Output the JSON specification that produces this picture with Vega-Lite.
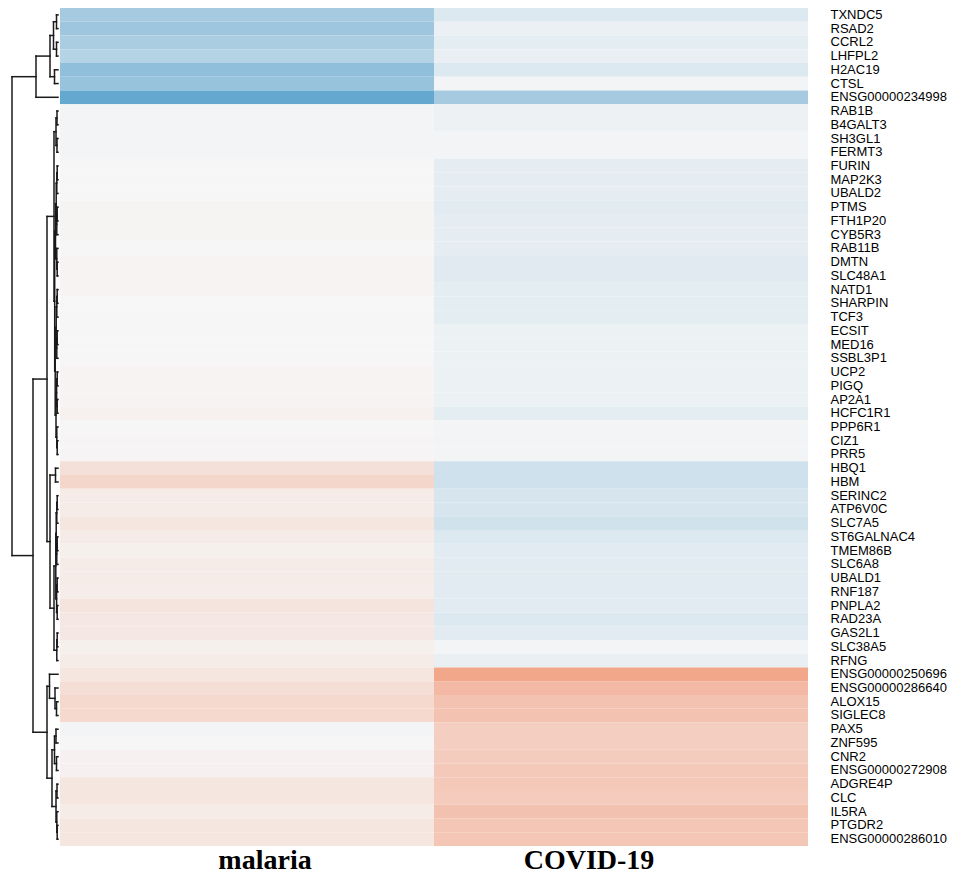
{
  "$schema": "https://vega.github.io/schema/vega-lite/v6.json",
  "padding": {"left": 5, "top": 8, "right": 0, "bottom": 0},
  "background": "white",
  "spacing": 0,
  "config": {"view": {"stroke": null}},
  "datasets": {
    "cells": [
      {"g": "TXNDC5", "c": "malaria", "v": -0.55}, {"g": "TXNDC5", "c": "COVID-19", "v": -0.17},
      {"g": "RSAD2", "c": "malaria", "v": -0.6}, {"g": "RSAD2", "c": "COVID-19", "v": -0.08},
      {"g": "CCRL2", "c": "malaria", "v": -0.52}, {"g": "CCRL2", "c": "COVID-19", "v": -0.12},
      {"g": "LHFPL2", "c": "malaria", "v": -0.45}, {"g": "LHFPL2", "c": "COVID-19", "v": -0.09},
      {"g": "H2AC19", "c": "malaria", "v": -0.7}, {"g": "H2AC19", "c": "COVID-19", "v": -0.17},
      {"g": "CTSL", "c": "malaria", "v": -0.65}, {"g": "CTSL", "c": "COVID-19", "v": -0.03},
      {"g": "ENSG00000234998", "c": "malaria", "v": -1}, {"g": "ENSG00000234998", "c": "COVID-19", "v": -0.55},
      {"g": "RAB1B", "c": "malaria", "v": -0.03}, {"g": "RAB1B", "c": "COVID-19", "v": -0.06},
      {"g": "B4GALT3", "c": "malaria", "v": -0.03}, {"g": "B4GALT3", "c": "COVID-19", "v": -0.06},
      {"g": "SH3GL1", "c": "malaria", "v": -0.03}, {"g": "SH3GL1", "c": "COVID-19", "v": -0.02},
      {"g": "FERMT3", "c": "malaria", "v": -0.03}, {"g": "FERMT3", "c": "COVID-19", "v": -0.02},
      {"g": "FURIN", "c": "malaria", "v": 0}, {"g": "FURIN", "c": "COVID-19", "v": -0.11},
      {"g": "MAP2K3", "c": "malaria", "v": 0}, {"g": "MAP2K3", "c": "COVID-19", "v": -0.11},
      {"g": "UBALD2", "c": "malaria", "v": 0}, {"g": "UBALD2", "c": "COVID-19", "v": -0.11},
      {"g": "PTMS", "c": "malaria", "v": 0.03}, {"g": "PTMS", "c": "COVID-19", "v": -0.14},
      {"g": "FTH1P20", "c": "malaria", "v": 0.03}, {"g": "FTH1P20", "c": "COVID-19", "v": -0.11},
      {"g": "CYB5R3", "c": "malaria", "v": 0.03}, {"g": "CYB5R3", "c": "COVID-19", "v": -0.11},
      {"g": "RAB11B", "c": "malaria", "v": 0}, {"g": "RAB11B", "c": "COVID-19", "v": -0.11},
      {"g": "DMTN", "c": "malaria", "v": 0.04}, {"g": "DMTN", "c": "COVID-19", "v": -0.15},
      {"g": "SLC48A1", "c": "malaria", "v": 0.04}, {"g": "SLC48A1", "c": "COVID-19", "v": -0.15},
      {"g": "NATD1", "c": "malaria", "v": 0.04}, {"g": "NATD1", "c": "COVID-19", "v": -0.12},
      {"g": "SHARPIN", "c": "malaria", "v": 0}, {"g": "SHARPIN", "c": "COVID-19", "v": -0.12},
      {"g": "TCF3", "c": "malaria", "v": 0}, {"g": "TCF3", "c": "COVID-19", "v": -0.12},
      {"g": "ECSIT", "c": "malaria", "v": 0}, {"g": "ECSIT", "c": "COVID-19", "v": -0.07},
      {"g": "MED16", "c": "malaria", "v": 0}, {"g": "MED16", "c": "COVID-19", "v": -0.07},
      {"g": "SSBL3P1", "c": "malaria", "v": 0}, {"g": "SSBL3P1", "c": "COVID-19", "v": -0.07},
      {"g": "UCP2", "c": "malaria", "v": 0.04}, {"g": "UCP2", "c": "COVID-19", "v": -0.07},
      {"g": "PIGQ", "c": "malaria", "v": 0.04}, {"g": "PIGQ", "c": "COVID-19", "v": -0.07},
      {"g": "AP2A1", "c": "malaria", "v": 0.04}, {"g": "AP2A1", "c": "COVID-19", "v": -0.07},
      {"g": "HCFC1R1", "c": "malaria", "v": 0.07}, {"g": "HCFC1R1", "c": "COVID-19", "v": -0.12},
      {"g": "PPP6R1", "c": "malaria", "v": 0}, {"g": "PPP6R1", "c": "COVID-19", "v": -0.02},
      {"g": "CIZ1", "c": "malaria", "v": 0.02}, {"g": "CIZ1", "c": "COVID-19", "v": -0.02},
      {"g": "PRR5", "c": "malaria", "v": 0.02}, {"g": "PRR5", "c": "COVID-19", "v": -0.02},
      {"g": "HBQ1", "c": "malaria", "v": 0.27}, {"g": "HBQ1", "c": "COVID-19", "v": -0.27},
      {"g": "HBM", "c": "malaria", "v": 0.4}, {"g": "HBM", "c": "COVID-19", "v": -0.27},
      {"g": "SERINC2", "c": "malaria", "v": 0.14}, {"g": "SERINC2", "c": "COVID-19", "v": -0.22},
      {"g": "ATP6V0C", "c": "malaria", "v": 0.13}, {"g": "ATP6V0C", "c": "COVID-19", "v": -0.22},
      {"g": "SLC7A5", "c": "malaria", "v": 0.2}, {"g": "SLC7A5", "c": "COVID-19", "v": -0.26},
      {"g": "ST6GALNAC4", "c": "malaria", "v": 0.13}, {"g": "ST6GALNAC4", "c": "COVID-19", "v": -0.17},
      {"g": "TMEM86B", "c": "malaria", "v": 0.08}, {"g": "TMEM86B", "c": "COVID-19", "v": -0.14},
      {"g": "SLC6A8", "c": "malaria", "v": 0.13}, {"g": "SLC6A8", "c": "COVID-19", "v": -0.14},
      {"g": "UBALD1", "c": "malaria", "v": 0.13}, {"g": "UBALD1", "c": "COVID-19", "v": -0.14},
      {"g": "RNF187", "c": "malaria", "v": 0.12}, {"g": "RNF187", "c": "COVID-19", "v": -0.14},
      {"g": "PNPLA2", "c": "malaria", "v": 0.23}, {"g": "PNPLA2", "c": "COVID-19", "v": -0.14},
      {"g": "RAD23A", "c": "malaria", "v": 0.17}, {"g": "RAD23A", "c": "COVID-19", "v": -0.17},
      {"g": "GAS2L1", "c": "malaria", "v": 0.17}, {"g": "GAS2L1", "c": "COVID-19", "v": -0.14},
      {"g": "SLC38A5", "c": "malaria", "v": 0.08}, {"g": "SLC38A5", "c": "COVID-19", "v": -0.03},
      {"g": "RFNG", "c": "malaria", "v": 0.14}, {"g": "RFNG", "c": "COVID-19", "v": -0.09},
      {"g": "ENSG00000250696", "c": "malaria", "v": 0.2}, {"g": "ENSG00000250696", "c": "COVID-19", "v": 1},
      {"g": "ENSG00000286640", "c": "malaria", "v": 0.3}, {"g": "ENSG00000286640", "c": "COVID-19", "v": 0.76},
      {"g": "ALOX15", "c": "malaria", "v": 0.37}, {"g": "ALOX15", "c": "COVID-19", "v": 0.65},
      {"g": "SIGLEC8", "c": "malaria", "v": 0.37}, {"g": "SIGLEC8", "c": "COVID-19", "v": 0.65},
      {"g": "PAX5", "c": "malaria", "v": -0.03}, {"g": "PAX5", "c": "COVID-19", "v": 0.5},
      {"g": "ZNF595", "c": "malaria", "v": 0}, {"g": "ZNF595", "c": "COVID-19", "v": 0.5},
      {"g": "CNR2", "c": "malaria", "v": 0.06}, {"g": "CNR2", "c": "COVID-19", "v": 0.52},
      {"g": "ENSG00000272908", "c": "malaria", "v": 0.06}, {"g": "ENSG00000272908", "c": "COVID-19", "v": 0.56},
      {"g": "ADGRE4P", "c": "malaria", "v": 0.2}, {"g": "ADGRE4P", "c": "COVID-19", "v": 0.56},
      {"g": "CLC", "c": "malaria", "v": 0.2}, {"g": "CLC", "c": "COVID-19", "v": 0.54},
      {"g": "IL5RA", "c": "malaria", "v": 0.13}, {"g": "IL5RA", "c": "COVID-19", "v": 0.66},
      {"g": "PTGDR2", "c": "malaria", "v": 0.2}, {"g": "PTGDR2", "c": "COVID-19", "v": 0.6},
      {"g": "ENSG00000286010", "c": "malaria", "v": 0.2}, {"g": "ENSG00000286010", "c": "COVID-19", "v": 0.6}
    ],
    "tree": [
      {"h": 1.5, "h1": 0, "u1": 0.5, "h2": 0, "u2": 1.5},
      {"h": 1.5, "h1": 0, "u1": 2.5, "h2": 0, "u2": 3.5},
      {"h": 4.5, "h1": 1.5, "u1": 1.0, "h2": 1.5, "u2": 3.0},
      {"h": 3.5, "h1": 0, "u1": 4.5, "h2": 0, "u2": 5.5},
      {"h": 8, "h1": 4.5, "u1": 2.0, "h2": 3.5, "u2": 5.0},
      {"h": 22, "h1": 8, "u1": 3.5, "h2": 0, "u2": 6.5},
      {"h": 1, "h1": 0, "u1": 7.5, "h2": 0, "u2": 8.5},
      {"h": 1, "h1": 0, "u1": 9.5, "h2": 0, "u2": 10.5},
      {"h": 2, "h1": 1, "u1": 8.0, "h2": 1, "u2": 10.0},
      {"h": 0.8, "h1": 0, "u1": 11.5, "h2": 0, "u2": 12.5},
      {"h": 1.2, "h1": 0.8, "u1": 12.0, "h2": 0, "u2": 13.5},
      {"h": 0.8, "h1": 0, "u1": 14.5, "h2": 0, "u2": 15.5},
      {"h": 1.2, "h1": 0.8, "u1": 15.0, "h2": 0, "u2": 16.5},
      {"h": 1.8, "h1": 1.2, "u1": 12.75, "h2": 1.2, "u2": 15.75},
      {"h": 0.8, "h1": 0, "u1": 18.5, "h2": 0, "u2": 19.5},
      {"h": 1.2, "h1": 0, "u1": 17.5, "h2": 0.8, "u2": 19.0},
      {"h": 2.5, "h1": 1.8, "u1": 14.25, "h2": 1.2, "u2": 18.25},
      {"h": 0.8, "h1": 0, "u1": 20.5, "h2": 0, "u2": 21.5},
      {"h": 1.2, "h1": 0.8, "u1": 21.0, "h2": 0, "u2": 22.5},
      {"h": 0.8, "h1": 0, "u1": 23.5, "h2": 0, "u2": 24.5},
      {"h": 1.2, "h1": 0.8, "u1": 24.0, "h2": 0, "u2": 25.5},
      {"h": 1.8, "h1": 1.2, "u1": 21.75, "h2": 1.2, "u2": 24.75},
      {"h": 0.8, "h1": 0, "u1": 26.5, "h2": 0, "u2": 27.5},
      {"h": 0.8, "h1": 0, "u1": 28.5, "h2": 0, "u2": 29.5},
      {"h": 1.4, "h1": 0.8, "u1": 27.0, "h2": 0.8, "u2": 29.0},
      {"h": 0.8, "h1": 0, "u1": 31.5, "h2": 0, "u2": 32.5},
      {"h": 1.2, "h1": 0, "u1": 30.5, "h2": 0.8, "u2": 32.0},
      {"h": 2, "h1": 1.4, "u1": 28.0, "h2": 1.2, "u2": 31.25},
      {"h": 2.8, "h1": 1.8, "u1": 23.25, "h2": 2, "u2": 29.625},
      {"h": 3.3, "h1": 2.5, "u1": 16.25, "h2": 2.8, "u2": 26.4375},
      {"h": 4, "h1": 2, "u1": 9.0, "h2": 3.3, "u2": 21.34375},
      {"h": 2.5, "h1": 0, "u1": 33.5, "h2": 0, "u2": 34.5},
      {"h": 0.8, "h1": 0, "u1": 35.5, "h2": 0, "u2": 36.5},
      {"h": 1.2, "h1": 0.8, "u1": 36.0, "h2": 0, "u2": 37.5},
      {"h": 0.8, "h1": 0, "u1": 38.5, "h2": 0, "u2": 39.5},
      {"h": 1.2, "h1": 0.8, "u1": 39.0, "h2": 0, "u2": 40.5},
      {"h": 1.8, "h1": 1.2, "u1": 36.75, "h2": 1.2, "u2": 39.75},
      {"h": 0.8, "h1": 0, "u1": 41.5, "h2": 0, "u2": 42.5},
      {"h": 0.8, "h1": 0, "u1": 43.5, "h2": 0, "u2": 44.5},
      {"h": 1.4, "h1": 0.8, "u1": 42.0, "h2": 0.8, "u2": 44.0},
      {"h": 2.2, "h1": 1.8, "u1": 38.25, "h2": 1.4, "u2": 43.0},
      {"h": 0.8, "h1": 0, "u1": 45.5, "h2": 0, "u2": 46.5},
      {"h": 1.2, "h1": 0.8, "u1": 46.0, "h2": 0, "u2": 47.5},
      {"h": 4, "h1": 2.2, "u1": 40.625, "h2": 1.2, "u2": 46.75},
      {"h": 8, "h1": 2.5, "u1": 34.0, "h2": 4, "u2": 43.6875},
      {"h": 11, "h1": 4, "u1": 15.17, "h2": 8, "u2": 38.84},
      {"h": 1.5, "h1": 0, "u1": 50.5, "h2": 0, "u2": 51.5},
      {"h": 3, "h1": 0, "u1": 49.5, "h2": 1.5, "u2": 51.0},
      {"h": 8.5, "h1": 0, "u1": 48.5, "h2": 3, "u2": 50.25},
      {"h": 2, "h1": 0, "u1": 52.5, "h2": 0, "u2": 53.5},
      {"h": 1.5, "h1": 0, "u1": 54.5, "h2": 0, "u2": 55.5},
      {"h": 3.5, "h1": 2, "u1": 53.0, "h2": 1.5, "u2": 55.0},
      {"h": 1, "h1": 0, "u1": 56.5, "h2": 0, "u2": 57.5},
      {"h": 0.8, "h1": 0, "u1": 59.5, "h2": 0, "u2": 60.5},
      {"h": 1.2, "h1": 0, "u1": 58.5, "h2": 0.8, "u2": 60.0},
      {"h": 2, "h1": 1, "u1": 57.0, "h2": 1.2, "u2": 59.25},
      {"h": 6, "h1": 3.5, "u1": 54.0, "h2": 2, "u2": 58.125},
      {"h": 11, "h1": 8.5, "u1": 49.375, "h2": 6, "u2": 56.0625},
      {"h": 25, "h1": 11, "u1": 27.01, "h2": 11, "u2": 52.72},
      {"h": 46, "h1": 22, "u1": 5.0, "h2": 25, "u2": 39.86}
    ]
  },
  "hconcat": [
    {
      "width": 53,
      "height": 838,
      "data": {"name": "tree"},
      "layer": [
        {
          "mark": {"type": "rule", "color": "#1a1a1a", "strokeWidth": 1.5, "strokeCap": "square"},
          "encoding": {
            "x": {"field": "h", "type": "quantitative", "scale": {"domain": [0, 53], "reverse": true, "nice": false, "zero": false}, "axis": null},
            "y": {"field": "u1", "type": "quantitative", "scale": {"domain": [0, 61], "reverse": true, "nice": false, "zero": false}, "axis": null},
            "y2": {"field": "u2"}
          }
        },
        {
          "mark": {"type": "rule", "color": "#1a1a1a", "strokeWidth": 1.5, "strokeCap": "square"},
          "encoding": {
            "x": {"field": "h", "type": "quantitative", "scale": {"domain": [0, 53], "reverse": true, "nice": false, "zero": false}, "axis": null},
            "x2": {"field": "h1"},
            "y": {"field": "u1", "type": "quantitative", "scale": {"domain": [0, 61], "reverse": true, "nice": false, "zero": false}, "axis": null}
          }
        },
        {
          "mark": {"type": "rule", "color": "#1a1a1a", "strokeWidth": 1.5, "strokeCap": "square"},
          "encoding": {
            "x": {"field": "h", "type": "quantitative", "scale": {"domain": [0, 53], "reverse": true, "nice": false, "zero": false}, "axis": null},
            "x2": {"field": "h2"},
            "y": {"field": "u2", "type": "quantitative", "scale": {"domain": [0, 61], "reverse": true, "nice": false, "zero": false}, "axis": null}
          }
        }
      ]
    },
    {
      "width": 748,
      "height": 838,
      "data": {"name": "cells"},
      "mark": {"type": "rect"},
      "encoding": {
        "x": {
          "field": "c", "type": "nominal", "sort": null,
          "scale": {"paddingInner": 0, "paddingOuter": 0},
          "axis": {
            "orient": "bottom", "title": null, "domain": false, "ticks": false, "labelAngle": 0,
            "labelFont": "Liberation Serif", "labelFontSize": 28, "labelFontWeight": "bold", "labelColor": "#000",
            "labelPadding": 0,
            "labelOffset": {"condition": {"test": "datum.value === 'malaria'", "value": 18}, "value": -32}
          }
        },
        "y": {
          "field": "g", "type": "nominal", "sort": null,
          "scale": {"paddingInner": 0, "paddingOuter": 0},
          "axis": {
            "orient": "right", "title": null, "domain": false, "ticks": false,
            "labelPadding": 22, "labelFont": "Liberation Sans", "labelFontSize": 13, "labelColor": "#000"
          }
        },
        "color": {
          "field": "v", "type": "quantitative",
          "scale": {"domain": [-1, 0, 1], "range": ["#64a8d0", "#f6f6f6", "#f2a68a"], "interpolate": "rgb"},
          "legend": null
        }
      }
    }
  ]
}
